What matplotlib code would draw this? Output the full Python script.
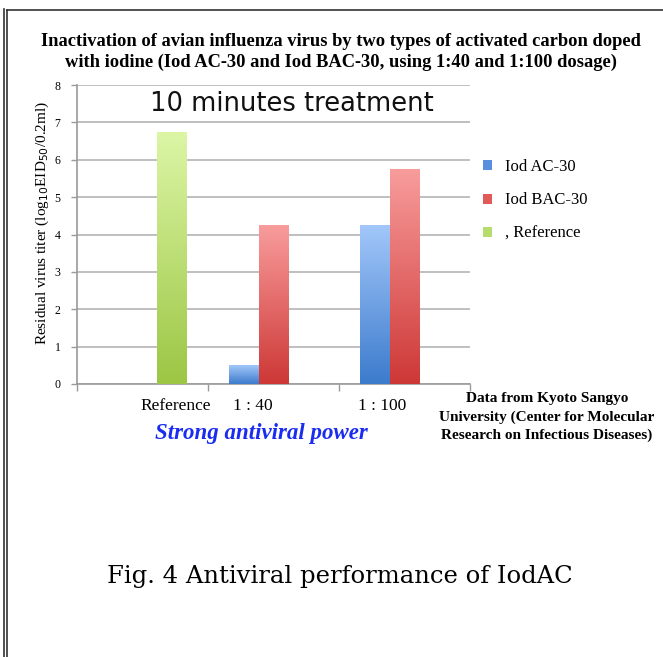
import numpy as np
import matplotlib
matplotlib.use("Agg")
import matplotlib.pyplot as plt
from matplotlib.colors import LinearSegmentedColormap
from matplotlib.lines import Line2D
from matplotlib.patches import Patch

# ---- data ----
categories = ["Reference", "1 : 40", "1 : 100"]
series_names = ["Iod AC-30", "Iod BAC-30", ", Reference"]
iod_ac30 = [0.0, 0.5, 4.25]
iod_bac30 = [0.0, 4.25, 5.75]
reference = [6.75, 0.0, 0.0]
yticks = [0, 1, 2, 3, 4, 5, 6, 7, 8]

W, H = 663, 657
fig = plt.figure(figsize=(W / 100, H / 100), dpi=100)
fig.patch.set_facecolor("white")

def fx(px):
    return px / W

def fy(py):
    return 1 - py / H

serif = ["Liberation Serif", "DejaVu Serif"]

ax = fig.add_axes([fx(77), fy(384), fx(470) - fx(77), fy(85) - fy(384)])

x = np.arange(len(categories))
bw = 0.225
series = [iod_ac30, iod_bac30, reference]
grads = [("#3c7bcc", "#a2c7fa"), ("#cd3836", "#f89c9c"), ("#9cc644", "#dcf6a6")]
legend_cols = ["#5a8fe0", "#e05a5a", "#b6dc6c"]
offsets = [-bw, 0, bw]

grad = np.linspace(0, 1, 256).reshape(-1, 1)
for vals, (c0, c1), off in zip(series, grads, offsets):
    bars = ax.bar(x + off, vals, width=bw, color="none", edgecolor="none", zorder=3)
    cmap = LinearSegmentedColormap.from_list("g", [c0, c1])
    for b in bars:
        h = b.get_height()
        if h <= 0:
            continue
        x0 = b.get_x()
        im = ax.imshow(grad, cmap=cmap, origin="lower", aspect="auto",
                       extent=[x0, x0 + b.get_width(), 0, h], zorder=3)
        im.set_clip_path(b)

ax.set_xlim(-0.5, 2.5)
ax.set_ylim(0, 8)
ax.set_yticks(yticks)
ax.set_yticklabels([str(t) for t in yticks], fontfamily=serif, fontsize=8.5)
ax.set_xticks([-0.5, 0.5, 1.5, 2.5])
ax.set_xticklabels([])
ax.tick_params(axis="x", length=5, color="#9a9a9a", width=1, direction="out")
ax.tick_params(axis="y", length=4, color="#9a9a9a", width=1, direction="out", pad=8)
ax.grid(axis="y", color="#b4b4b4", linewidth=1.2, zorder=0)
ax.set_axisbelow(True)
for s in ["top", "right"]:
    ax.spines[s].set_visible(False)
ax.spines["left"].set_color("#9a9a9a")
ax.spines["bottom"].set_color("#9a9a9a")
ax.spines["left"].set_linewidth(1.2)
ax.spines["bottom"].set_linewidth(1.2)

# category labels (placed text boxes in original)
label_x = [0.25, 0.84, 1.83]
for lx, lab in zip(label_x, categories):
    ax.text(lx, -0.6, lab, ha="center", va="center", fontfamily=serif,
            fontsize=12.5, clip_on=False)

fig.text(fx(42), fy(223), "Residual virus titer (log$_{10}$EID$_{50}$/0.2ml)",
         rotation=90, ha="center", va="center", fontfamily=serif, fontsize=11)

fig.text(fx(292), fy(104), "10 minutes treatment", ha="center", va="center",
         fontfamily=["DejaVu Sans"], fontsize=18.5, color="#111111")

# legend
handles = [Patch(facecolor=c, edgecolor="none") for c in legend_cols]
leg = fig.legend(handles, series_names, loc="upper left",
                 bbox_to_anchor=(fx(468), fy(144)), frameon=False,
                 prop={"family": serif, "size": 12}, handlelength=0.55,
                 handleheight=0.55, handletextpad=0.75, labelspacing=1.05)

fig.suptitle("Inactivation of avian influenza virus by two types of activated carbon doped\n"
             "with iodine (Iod AC-30 and Iod BAC-30, using 1:40 and 1:100 dosage)",
             x=fx(341), y=fy(33), va="top", fontfamily=serif, fontweight="bold",
             fontsize=13.3, linespacing=1.3)

fig.text(fx(261), fy(433), "Strong antiviral power", ha="center", va="center",
         fontfamily=serif, fontweight="bold", fontstyle="italic", fontsize=16.5,
         color="#1a2cf0")

fig.text(fx(547), fy(417), "Data from Kyoto Sangyo\nUniversity (Center for Molecular\n"
         "Research on Infectious Diseases)", ha="center", va="center",
         fontfamily=serif, fontweight="bold", fontsize=11, linespacing=1.45)

fig.text(fx(340), fy(576), "Fig. 4 Antiviral performance of IodAC", ha="center",
         va="center", fontfamily=["DejaVu Serif"], fontsize=17.5)

# page border lines
bc = "#333333"
fig.add_artist(Line2D([fx(7), 1], [fy(9.5), fy(9.5)], color=bc, lw=1.2))
fig.add_artist(Line2D([fx(3.5), fx(3.5)], [fy(9), 0], color=bc, lw=1.2))
fig.add_artist(Line2D([fx(7), fx(7)], [fy(9.5), 0], color=bc, lw=1.2))

fig.savefig("out.png", dpi=100)
